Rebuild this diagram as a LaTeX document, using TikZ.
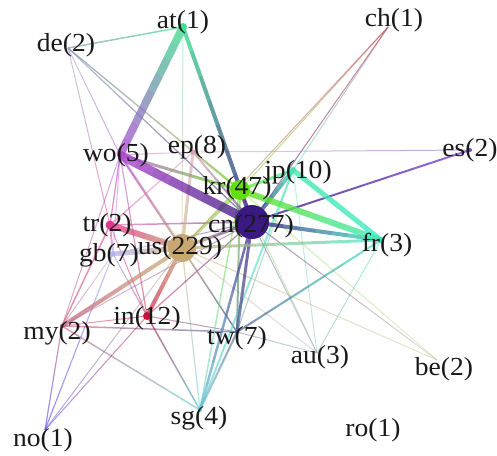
\documentclass[tikz,border=0pt]{standalone}
\usepackage{fontspec}
\setmainfont{Liberation Serif}[FakeStretch=1.06]
\usetikzlibrary{calc}
\definecolor{cat}{HTML}{40E090}
\definecolor{cde}{HTML}{8898B8}
\definecolor{cch}{HTML}{C05060}
\definecolor{ces}{HTML}{7848D8}
\definecolor{cwo}{HTML}{B048D0}
\definecolor{cep}{HTML}{D8A0B0}
\definecolor{ckr}{HTML}{60E010}
\definecolor{cjp}{HTML}{40E8B0}
\definecolor{ccn}{HTML}{3A1A80}
\definecolor{cfr}{HTML}{40E8C0}
\definecolor{ctr}{HTML}{E03890}
\definecolor{cgb}{HTML}{B0B0F0}
\definecolor{cus}{HTML}{C8A870}
\definecolor{cin}{HTML}{C8103C}
\definecolor{cmy}{HTML}{C05878}
\definecolor{ctw}{HTML}{485A88}
\definecolor{cau}{HTML}{88A8A8}
\definecolor{cbe}{HTML}{C8C8A0}
\definecolor{csg}{HTML}{60C8D0}
\definecolor{cno}{HTML}{5040E8}
\newcommand\E[4][0.6]{%
  \foreach \k in {0,...,7}{%
    \pgfmathtruncatemacro\gpc{100-(\k+0.5)*12.5}%
    \pgfmathsetmacro\gta{\k/8}\pgfmathsetmacro\gtb{(\k+1)/8}%
    \draw[line width=#4, draw=c#2!\gpc!c#3, draw opacity=#1]
      ($(v#2)!\gta!(v#3)$) -- ($(v#2)!\gtb!(v#3)$);
  }}
\tikzset{
  dot/.style={circle, inner sep=0pt, minimum size=#1},
  lbl/.style={inner sep=0pt, anchor=center, text=black!90, font=\fontsize{26}{26}\selectfont}
}
\begin{document}
\begin{tikzpicture}[x=1pt,y=-1pt]
\useasboundingbox (0,0) rectangle (497,455);
% node centres
\coordinate (vat) at (183,27);
\coordinate (vde) at (68,48);
\coordinate (vch) at (388,27);
\coordinate (ves) at (470,150);
\coordinate (vwo) at (120,155);
\coordinate (vep) at (193,152);
\coordinate (vkr) at (240,190);
\coordinate (vjp) at (293,170);
\coordinate (vcn) at (252,222);
\coordinate (vfr) at (381,240);
\coordinate (vtr) at (110,225);
\coordinate (vgb) at (113,254);
\coordinate (vus) at (182,248);
\coordinate (vin) at (147,316);
\coordinate (vmy) at (62,326);
\coordinate (vtw) at (237,332);
\coordinate (vau) at (317,353);
\coordinate (vbe) at (437,360);
\coordinate (vsg) at (200,410);
\coordinate (vno) at (45,430);
\coordinate (vro) at (373,430);
% thin edges
\E[0.7]{de}{at}{1.5}
\E[0.4]{at}{us}{1}
\E[0.5]{de}{wo}{1}
\E[0.5]{de}{tr}{1}
\E[0.6]{de}{kr}{1.2}
\E[0.6]{de}{cn}{1.2}
\E[0.5]{de}{ep}{1}
\E[0.5]{ch}{kr}{1}
\E[0.6]{ch}{cn}{1}
\E[0.6]{ch}{us}{1}
\E[0.5]{ch}{jp}{1}
\E[0.5]{es}{ep}{1}
\E[0.6]{wo}{tr}{1.2}
\E[0.5]{wo}{gb}{1}
\E[0.5]{wo}{in}{1.2}
\E[0.5]{wo}{my}{1}
\E[0.5]{wo}{ep}{1}
\E[0.4]{wo}{tw}{1}
\E[0.5]{tr}{cn}{1.5}
\E[0.6]{tr}{gb}{2}
\E[0.6]{tr}{my}{1.5}
\E[0.5]{tr}{in}{1}
\E[0.5]{tr}{ep}{1.2}
\E[0.5]{gb}{my}{1}
\E[0.6]{gb}{no}{1.2}
\E[0.5]{gb}{cn}{1}
\E[0.5]{gb}{in}{1}
\E[0.5]{gb}{sg}{1}
\E[0.6]{my}{tw}{1.5}
\E[0.6]{my}{sg}{1.5}
\E[0.6]{my}{no}{1.2}
\E[0.5]{my}{in}{1}
\E[0.4]{my}{cn}{1}
\E[0.5]{no}{in}{1}
\E[0.5]{no}{us}{1}
\E[0.6]{in}{sg}{1.5}
\E[0.5]{us}{sg}{1.2}
\E[0.5]{in}{tw}{1}
\E[0.5]{in}{cn}{1.2}
\E[0.6]{us}{tw}{1.5}
\E[0.4]{tw}{jp}{1}
\E[0.4]{tw}{au}{1}
\E[0.5]{fr}{au}{1}
\E[0.4]{cn}{au}{1}
\E[0.4]{jp}{au}{1}
\E[0.4]{us}{au}{1}
\E[0.4]{kr}{au}{1}
\E[0.5]{cn}{be}{1}
\E[0.5]{us}{be}{1}
\E[0.4]{kr}{be}{1}
% medium and thick edges
\E[0.8]{es}{cn}{2}
\E[0.6]{kr}{tw}{2}
\E[0.5]{kr}{sg}{1.5}
\E[0.6]{jp}{sg}{2}
\E[0.7]{tw}{fr}{2}
\E[0.6]{tw}{sg}{2}
\E[0.7]{cn}{tw}{3}
\E[0.7]{cn}{sg}{2.5}
\E[0.6]{ep}{cn}{2}
\E[0.6]{wo}{us}{2.5}
\E[0.6]{ep}{us}{3}
\E[0.7]{cn}{us}{3}
\E[0.7]{wo}{kr}{3}
\E[0.6]{ep}{kr}{2.5}
\E[0.6]{kr}{us}{3}
\E[0.7]{kr}{jp}{3}
\E[0.7]{us}{fr}{3}
\E[0.7]{in}{us}{4}
\E[0.7]{my}{us}{4}
\E[0.7]{gb}{us}{5}
\E[0.8]{tr}{us}{6}
\E[0.8]{cn}{fr}{4}
\E[0.8]{jp}{cn}{4}
\E[0.8]{jp}{fr}{5}
\E[0.8]{kr}{fr}{6}
\E[0.8]{at}{cn}{4}
\E[0.8]{wo}{at}{8}
\E[0.8]{wo}{cn}{9}
% dots
\node[dot=34pt, fill=ccn] (d-cn) at (vcn) {};
\node[dot=28pt, fill=cus] (d-us) at (vus) {};
\node[dot=20pt, fill=ckr] (d-kr) at (vkr) {};
\node[dot=8pt, fill=cin] (d-in) at (vin) {};
\node[dot=9pt, fill=ctr] (d-tr) at (vtr) {};
\node[dot=8pt, fill=cat] (d-at) at (vat) {};
\node[dot=6pt, fill=cwo] (d-wo) at (vwo) {};
\node[dot=6pt, fill=cjp] (d-jp) at (vjp) {};
\node[dot=6pt, fill=cfr] (d-fr) at (vfr) {};
\node[dot=5pt, fill=cgb] (d-gb) at (vgb) {};
\node[dot=5pt, fill=cep] (d-ep) at (vep) {};
\node[dot=4pt, fill=ces] (d-es) at (ves) {};
\node[dot=4pt, fill=csg] (d-sg) at (vsg) {};
\node[dot=4pt, fill=ctw] (d-tw) at (vtw) {};
\node[dot=4pt, fill=cmy] (d-my) at (vmy) {};
% labels
\node[lbl] (l-at) at (183,22) {at(1)};
\node[lbl] (l-de) at (66,45) {de(2)};
\node[lbl] (l-ch) at (394,20) {ch(1)};
\node[lbl] (l-es) at (470,150) {es(2)};
\node[lbl] (l-wo) at (116,155) {wo(5)};
\node[lbl] (l-ep) at (197,147) {ep(8)};
\node[lbl] (l-kr) at (237,188) {kr(47)};
\node[lbl] (l-jp) at (298,172) {jp(10)};
\node[lbl] (l-cn) at (251,226) {cn(277)};
\node[lbl] (l-fr) at (387,245) {fr(3)};
\node[lbl] (l-tr) at (107,225) {tr(2)};
\node[lbl] (l-gb) at (109,255) {gb(7)};
\node[lbl] (l-us) at (180,248) {us(229)};
\node[lbl] (l-in) at (147,318) {in(12)};
\node[lbl] (l-my) at (57,333) {my(2)};
\node[lbl] (l-tw) at (237,338) {tw(7)};
\node[lbl] (l-au) at (320,357) {au(3)};
\node[lbl] (l-be) at (444,369) {be(2)};
\node[lbl] (l-sg) at (199,418) {sg(4)};
\node[lbl] (l-no) at (43,440) {no(1)};
\node[lbl] (l-ro) at (373,430) {ro(1)};
\end{tikzpicture}
\end{document}
